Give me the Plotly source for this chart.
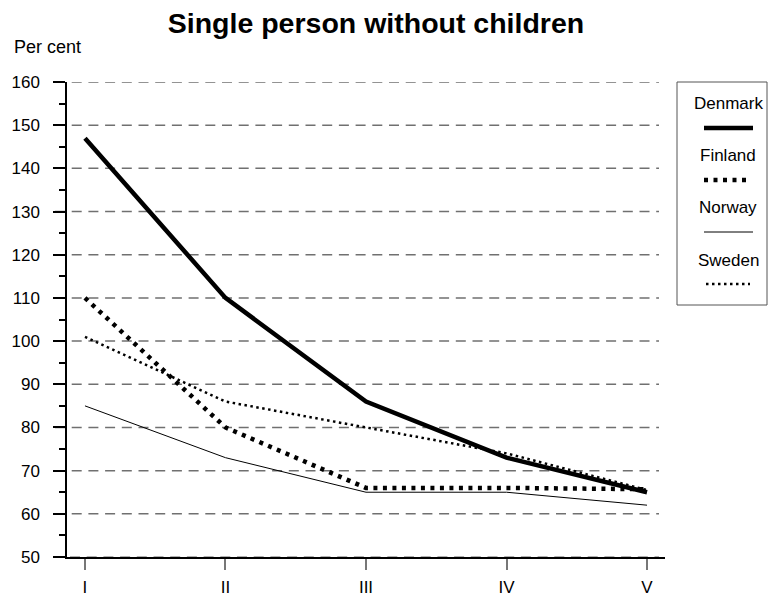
import plotly.graph_objects as go

categories = ["I", "II", "III", "IV", "V"]
denmark = [147, 110, 86, 73, 65]
finland = [110, 80, 66, 66, 65.7]
norway = [85, 73, 65, 65, 62]
sweden = [101, 86, 80, 74, 65.5]
y_ticks = [50, 60, 70, 80, 90, 100, 110, 120, 130, 140, 150, 160]
grid_values = [60, 70, 80, 90, 100, 110, 120, 130, 140, 150, 160]

FONT = "Liberation Sans, Arial, Helvetica, sans-serif"
W, H = 772, 598
L, R, T, B = 67, 107, 82, 41
PW, PH = W - L - R, H - T - B


def px_x(px):
    return (px - L) / PW


def px_y(py):
    return (H - B - py) / PH


series = [
    ("Denmark", denmark, dict(color="black", width=4.5, dash="solid")),
    ("Finland", finland, dict(color="black", width=4.5, dash="4px,5.5px")),
    ("Norway", norway, dict(color="black", width=1, dash="solid")),
    ("Sweden", sweden, dict(color="black", width=2.5, dash="2.5px,3.5px")),
]

fig = go.Figure()
for name, vals, line in series:
    fig.add_trace(go.Scatter(x=categories, y=vals, mode="lines", name=name,
                             line=line, showlegend=False, hoverinfo="skip"))

shapes = []
for g in grid_values:
    shapes.append(dict(type="line", xref="paper", yref="y", x0=px_x(55), x1=px_x(659),
                       y0=g, y1=g, line=dict(color="#707070", width=1.5, dash="10px,6.7px"),
                       layer="below"))
# faint dashes over the baseline, as in the reference
shapes.append(dict(type="line", xref="paper", yref="y", x0=px_x(70), x1=px_x(659),
                   y0=y_ticks[0], y1=y_ticks[0],
                   line=dict(color="#606060", width=1.2, dash="10px,6.7px"), layer="above"))

# legend box
shapes.append(dict(type="rect", xref="paper", yref="paper", x0=px_x(677), x1=px_x(767),
                   y0=px_y(305), y1=px_y(82), line=dict(color="#555", width=1)))
annotations = []
leg_text_y = [103, 156, 207, 260]
leg_line_y = [128, 180, 232, 284]
leg_x = [(704, 753), (704, 750), (704, 753), (706, 750)]
for (name, vals, line), ty, ly, (lx0, lx1) in zip(series, leg_text_y, leg_line_y, leg_x):
    annotations.append(dict(text=name, xref="paper", yref="paper", x=px_x(728), y=px_y(ty),
                            xanchor="center", yanchor="middle", showarrow=False,
                            font=dict(family=FONT, size=17, color="black")))
    shapes.append(dict(type="line", xref="paper", yref="paper", x0=px_x(lx0), x1=px_x(lx1),
                       y0=px_y(ly), y1=px_y(ly), line=line))

annotations.append(dict(text="Per cent", xref="paper", yref="paper", x=px_x(12), y=px_y(47),
                        xanchor="left", yanchor="middle", showarrow=False,
                        font=dict(family=FONT, size=18, color="black")))

fig.update_layout(
    width=W, height=H,
    margin=dict(l=L, r=R, t=T, b=B, autoexpand=False),
    paper_bgcolor="white", plot_bgcolor="white",
    font=dict(family=FONT, size=16, color="black"),
    title=dict(text="<b>Single person without children</b>", x=376 / W, xanchor="center",
               y=1 - 23 / H, yanchor="middle", xref="container", yref="container",
               font=dict(family=FONT, size=28.5, color="black")),
    shapes=shapes,
    annotations=annotations,
    xaxis=dict(type="category", range=[-0.128, 4.128], showgrid=False, zeroline=False,
               automargin=False,
               showline=True, linecolor="black", linewidth=1.5,
               ticks="outside", ticklen=11, tickcolor="#777", tickwidth=1.5,
               tickfont=dict(family=FONT, size=17), ticklabelstandoff=3),
    yaxis=dict(range=[50, 160], tickvals=y_ticks, showgrid=False, zeroline=False,
               automargin=False,
               showline=True, linecolor="black", linewidth=1.5,
               ticks="outside", ticklen=12, tickcolor="black", tickwidth=1.5,
               minor=dict(dtick=5, tick0=50, ticks="outside", ticklen=6, tickcolor="black",
                          tickwidth=1.5, showgrid=False),
               tickfont=dict(family=FONT, size=17), ticklabelstandoff=10),
)

fig.write_html("out.html", post_script="document.body.style.margin='0';",
               config={"displayModeBar": False})
